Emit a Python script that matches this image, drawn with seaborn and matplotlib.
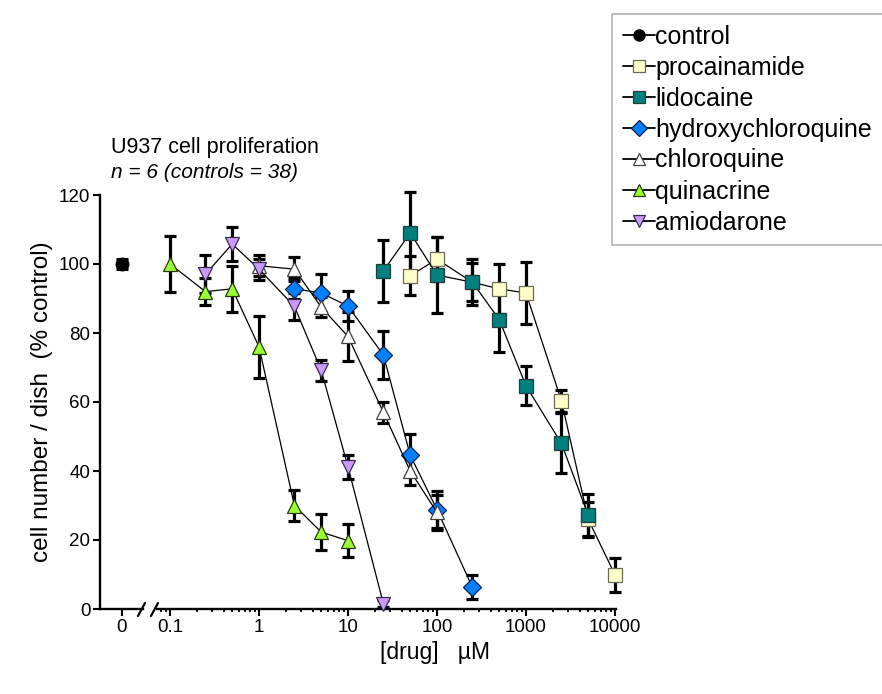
import numpy as np
import pandas as pd
import matplotlib
matplotlib.use("Agg")
import matplotlib.pyplot as plt
from matplotlib.lines import Line2D
from matplotlib.ticker import LogLocator, FixedLocator, NullFormatter
import seaborn as sns

sns.set_style("ticks")
plt.rcParams["font.family"] = ["Liberation Sans", "DejaVu Sans"]
plt.rcParams["text.color"] = "black"
plt.rcParams["axes.labelcolor"] = "black"
plt.rcParams["xtick.color"] = "black"
plt.rcParams["ytick.color"] = "black"
plt.rcParams["axes.edgecolor"] = "black"

# ---------------- data ----------------
control_x = [0]
control_y = [100]
control_err = [1.5]

procainamide_x = [50, 100, 250, 500, 1000, 2500, 5000, 10000]
procainamide_y = [96.6, 101.4, 94.7, 92.8, 91.6, 60.4, 26.0, 9.9]
procainamide_err = [5.7, 6.4, 5.5, 7.2, 9.0, 3.2, 5.0, 5.0]

lidocaine_x = [25, 50, 100, 250, 500, 1000, 2500, 5000]
lidocaine_y = [98.0, 109.0, 96.8, 94.7, 83.9, 64.7, 48.0, 27.2]
lidocaine_err = [9.0, 12.0, 11.0, 6.7, 9.5, 5.7, 8.7, 6.0]

hydroxychloroquine_x = [2.5, 5, 10, 25, 50, 100, 250]
hydroxychloroquine_y = [92.8, 91.6, 87.8, 73.6, 44.6, 28.8, 6.3]
hydroxychloroquine_err = [3.0, 5.4, 4.4, 7.0, 6.0, 5.4, 3.5]

chloroquine_x = [1, 2.5, 5, 10, 25, 50, 100]
chloroquine_y = [99.5, 98.5, 87.5, 79.0, 57.0, 40.0, 28.0]
chloroquine_err = [3.0, 3.5, 3.0, 7.0, 3.0, 4.0, 5.0]

quinacrine_x = [0.1, 0.25, 0.5, 1, 2.5, 5, 10]
quinacrine_y = [100.0, 92.0, 92.8, 76.0, 30.0, 22.3, 19.8]
quinacrine_err = [8.0, 4.0, 6.6, 9.0, 4.6, 5.2, 4.8]

amiodarone_x = [0.25, 0.5, 1, 2.5, 5, 10, 25]
amiodarone_y = [97.0, 105.8, 98.5, 87.7, 69.2, 41.2, 1.5]
amiodarone_err = [5.5, 5.0, 3.0, 3.8, 3.0, 3.4, 1.0]

x_tick_values = [0.1, 1, 10, 100, 1000, 10000]
x_tick_labels = ["0.1", "1", "10", "100", "1000", "10000"]
y_tick_values = [0, 20, 40, 60, 80, 100, 120]

# ---------------- styles ----------------
series = [
    ("procainamide", procainamide_x, procainamide_y, procainamide_err, "s", "#FFFFCC", "#6b6b55", 9.5),
    ("lidocaine", lidocaine_x, lidocaine_y, lidocaine_err, "s", "#007F7F", "#1f3f3f", 9.5),
    ("hydroxychloroquine", hydroxychloroquine_x, hydroxychloroquine_y, hydroxychloroquine_err, "D", "#0080FF", "#10204a", 9.0),
    ("chloroquine", chloroquine_x, chloroquine_y, chloroquine_err, "^", "#FFFFFF", "#404040", 10.5),
    ("quinacrine", quinacrine_x, quinacrine_y, quinacrine_err, "^", "#99FF33", "#2a3a10", 10.5),
    ("amiodarone", amiodarone_x, amiodarone_y, amiodarone_err, "v", "#CC99FF", "#3a2a4a", 10.5),
]

W, H = 882, 694
fig = plt.figure(figsize=(W / 100, H / 100), dpi=100)

def fx(px):
    return px / W

def fy(py):
    return 1 - py / H

y_top, y_bot = 195, 609
axL = fig.add_axes([fx(100), fy(y_bot), fx(143) - fx(100), fy(y_top) - fy(y_bot)])
axR = fig.add_axes([fx(157), fy(y_bot), fx(616) - fx(157), fy(y_top) - fy(y_bot)])

lw_spine = 1.7
for ax in (axL, axR):
    ax.set_ylim(0, 120)
    for s in ("top", "right"):
        ax.spines[s].set_visible(False)
    ax.spines["bottom"].set_linewidth(lw_spine)
    ax.spines["left"].set_linewidth(lw_spine)
    ax.tick_params(axis="both", which="major", direction="out", length=5, width=1.5,
                   labelsize=13.5, colors="black", pad=2)
    ax.tick_params(axis="both", which="minor", direction="out", length=2.5, width=1.3)
    ax.patch.set_alpha(0)

axR.spines["left"].set_visible(False)
axR.tick_params(axis="y", left=False, labelleft=False)

# left (control) panel
axL.set_xlim(-1, 1)
axL.set_xticks([0])
axL.set_xticklabels(["0"])
axL.set_yticks(y_tick_values)
axL.set_yticklabels([str(v) for v in y_tick_values])
axL.errorbar(control_x, control_y, yerr=control_err, fmt="none", ecolor="black",
             elinewidth=2.2, capsize=4.5, capthick=2.2, zorder=2)
sns.scatterplot(x=control_x, y=control_y, ax=axL, marker="o", s=85, color="black",
                edgecolor="black", linewidth=0.8, zorder=5, legend=False, clip_on=False)

# right (log) panel
axR.set_xscale("log")
axR.set_xlim(10 ** (-1 + (157 - 170) / 89), 10 ** (-1 + (616 - 170) / 89))

for name, xs, ys, es, m, fc, ec, ms in series:
    axR.errorbar(xs, ys, yerr=es, fmt="none", ecolor="black", elinewidth=2.3,
                 capsize=4.5, capthick=2.3, zorder=2, clip_on=False)
    sns.lineplot(x=xs, y=ys, ax=axR, color="black", linewidth=0.9, marker=m,
                 markersize=ms, markerfacecolor=fc, markeredgecolor=ec,
                 markeredgewidth=0.9, zorder=4, clip_on=False, legend=False,
                 errorbar=None)

axR.xaxis.set_major_locator(FixedLocator(x_tick_values))
axR.set_xticklabels(x_tick_labels)
axR.xaxis.set_minor_locator(LogLocator(base=10, subs=np.arange(2, 10), numticks=20))
axR.xaxis.set_minor_formatter(NullFormatter())
for ax in (axL, axR):
    ax.set_xlabel("")
    ax.set_ylabel("")

# axis break marks
for x0 in (143, 156):
    fig.add_artist(Line2D([fx(x0 - 5), fx(x0 + 2)], [fy(616), fy(603)],
                          color="black", lw=1.6, transform=fig.transFigure))

# texts
fig.text(fx(111), fy(148), "U937 cell proliferation", fontsize=15.5, ha="left", va="center")
fig.text(fx(111), fy(172), "n = 6 (controls = 38)", fontsize=15, style="italic",
         ha="left", va="center")
fig.text(fx(42), fy(402), "cell number / dish  (% control)", fontsize=17.5, rotation=90,
         ha="center", va="center")
fig.text(fx(435), fy(652), "[drug]   µM", fontsize=16.5, ha="center", va="center")

# legend
handles = [Line2D([], [], color="black", lw=1.3, marker="o", markersize=8,
                  markerfacecolor="black", markeredgecolor="black", label="control")]
for name, xs, ys, es, m, fc, ec, ms in series:
    handles.append(Line2D([], [], color="black", lw=1.3, marker=m, markersize=ms * 0.85,
                          markerfacecolor=fc, markeredgecolor=ec, markeredgewidth=0.9,
                          label=name))
leg = fig.legend(handles=handles, loc="upper left", bbox_to_anchor=(fx(612), fy(14)),
                 frameon=True, fancybox=False, fontsize=18, handlelength=1.3,
                 handletextpad=0.02, labelspacing=0.28, borderpad=0.42,
                 borderaxespad=0, edgecolor="#a0a0a0")
leg.get_frame().set_linewidth(1.2)

fig.savefig("out.png", dpi=100)
